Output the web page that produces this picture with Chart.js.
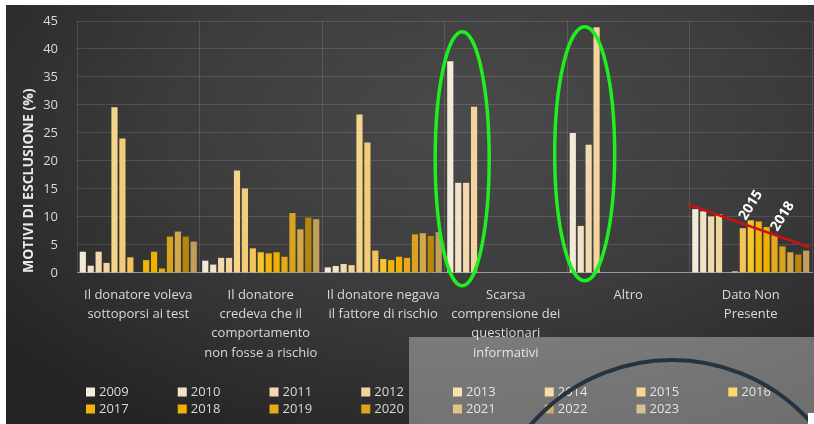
<!DOCTYPE html>
<html>
<head>
<meta charset="utf-8">
<script src="https://cdn.jsdelivr.net/npm/chart.js@4.4.1/dist/chart.umd.min.js"></script>
<style>
  body { margin: 0; background: #fff; }
  #wrap {
    position: absolute; left: 6px; top: 5px; width: 808px; height: 419px;
    background: radial-gradient(ellipse 75% 85% at 58% 28%, #4a4a4a 0%, #3c3c3c 50%, #242424 100%);
  }
</style>
</head>
<body>
<div id="wrap"><canvas id="myChart"></canvas></div>
<script>
let categories = [
    ["Il donatore voleva", "sottoporsi ai test"],
    ["Il donatore", "credeva che il", "comportamento", "non fosse a rischio"],
    ["Il donatore negava", "il fattore di rischio"],
    ["Scarsa", "comprensione dei", "questionari", "informativi"],
    ["Altro"],
    ["Dato Non", "Presente"]
];
let years = ["2009", "2010", "2011", "2012", "2013", "2014", "2015", "2016",
             "2017", "2018", "2019", "2020", "2021", "2022", "2023"];
let yTicks = [0, 5, 10, 15, 20, 25, 30, 35, 40, 45];

let v2009 = [3.8, 2.2, 1.0, 37.8, 25.0, 11.4];
let v2010 = [1.3, 1.5, 1.25, 16.1, 8.4, 11.0];
let v2011 = [3.8, 2.7, 1.6, 16.1, 22.9, 10.1];
let v2012 = [1.8, 2.7, 1.4, 29.7, 43.9, 10.5];
let v2013 = [29.6, 18.3, 28.3, 0, 0, 0];
let v2014 = [24.0, 15.1, 23.3, 0, 0, 0.3];
let v2015 = [2.8, 4.4, 4.0, 0, 0, 8.0];
let v2016 = [0, 3.7, 2.5, 0, 0, 9.4];
let v2017 = [2.3, 3.5, 2.3, 0, 0, 9.2];
let v2018 = [3.8, 3.7, 2.9, 0, 0, 8.2];
let v2019 = [0.8, 2.9, 2.7, 0, 0, 6.8];
let v2020 = [6.5, 10.7, 6.9, 0, 0, 4.75];
let v2021 = [7.4, 7.8, 7.1, 0, 0, 3.7];
let v2022 = [6.5, 9.9, 6.6, 0, 0, 3.3];
let v2023 = [5.6, 9.6, 7.3, 0, 0, 4.0];

let series = [v2009, v2010, v2011, v2012, v2013, v2014, v2015, v2016,
              v2017, v2018, v2019, v2020, v2021, v2022, v2023];
let colors = ["#f3ead9", "#f4e2c4", "#f2d9b0", "#f4d49c", "#f5d58a", "#f3cc7a", "#f4c35c", "#f7c62a",
              "#f3b40a", "#f0b000", "#e4aa1c", "#d9a31e", "#d4a847", "#b8860b", "#c2a05a"];

let font = "Open Sans";
let textColor = "#d9d9d9";
let gridColor = "rgba(255,255,255,0.12)";

function drawLegend(ctx, chart) {
    ctx.save();
    ctx.font = `13px ${font}`;
    ctx.textBaseline = "middle";
    ctx.textAlign = "left";
    chart.data.datasets.forEach((ds, i) => {
        let col = i % 8, row = Math.floor(i / 8);
        let bx = 80 + col * 91.75, by = 387 + row * 17;
        ctx.fillStyle = ds.backgroundColor;
        ctx.fillRect(bx, by - 4.5, 9, 9);
        ctx.fillStyle = textColor;
        ctx.fillText(ds.label, bx + 13, by + 0.5);
    });
    ctx.restore();
}

function ringBars(ctx, chart, idx, yValue, rx) {
    let first = chart.getDatasetMeta(0).data[idx];
    let fourth = chart.getDatasetMeta(3).data[idx];
    let cx = (first.x + fourth.x) / 2;
    let cy = chart.scales.y.getPixelForValue(yValue);
    ctx.beginPath();
    ctx.ellipse(cx, cy, rx, 127, 0, 0, Math.PI * 2);
    ctx.stroke();
}

function rotatedText(ctx, text, x, y) {
    ctx.save();
    ctx.translate(x, y);
    ctx.rotate(-58 * Math.PI / 180);
    ctx.fillText(text, 0, 0);
    ctx.restore();
}

let extras = {
    id: "extras",
    afterDraw(chart) {
        let ctx = chart.ctx;
        let xs = chart.scales.x, ys = chart.scales.y;
        drawLegend(ctx, chart);

        ctx.save();
        ctx.strokeStyle = "#1fef1f";
        ctx.lineWidth = 3.5;
        ringBars(ctx, chart, 3, 20.4, 27);
        ringBars(ctx, chart, 4, 21.3, 30);

        let cw = xs.getPixelForValue(1) - xs.getPixelForValue(0);
        let c5 = xs.getPixelForValue(5);
        ctx.strokeStyle = "#d01010";
        ctx.lineWidth = 2.5;
        ctx.beginPath();
        ctx.moveTo(c5 - cw / 2 - 2, ys.getPixelForValue(12.3));
        ctx.lineTo(c5 + cw * 0.48, ys.getPixelForValue(4.6));
        ctx.stroke();

        ctx.fillStyle = "#ffffff";
        ctx.font = `bold 14px ${font}`;
        ctx.textAlign = "center";
        ctx.textBaseline = "middle";
        rotatedText(ctx, "2015", chart.getDatasetMeta(6).data[5].x + 8, ys.getPixelForValue(12.1));
        rotatedText(ctx, "2018", chart.getDatasetMeta(9).data[5].x + 16, ys.getPixelForValue(10.1));

        ctx.fillStyle = "rgba(255,255,255,0.34)";
        ctx.fillRect(403, 332, 405, 87);
        ctx.strokeStyle = "#243443";
        ctx.lineWidth = 4;
        ctx.beginPath();
        ctx.arc(666, 541, 186, 0, Math.PI * 2);
        ctx.stroke();
        ctx.fillStyle = "#ffffff";
        ctx.fillRect(802, 408, 6, 11);
        ctx.restore();
    }
};

let chart = new Chart(document.getElementById("myChart"), {
    type: "bar",
    data: {
        labels: categories,
        datasets: years.map((year, i) => ({
            label: year,
            data: series[i],
            backgroundColor: colors[i],
            borderWidth: 0,
            categoryPercentage: 0.97,
            barPercentage: 0.78
        }))
    },
    options: {
        responsive: true,
        maintainAspectRatio: false,
        animation: false,
        layout: { padding: { top: 16, right: 2, bottom: 49, left: 0 } },
        plugins: {
            legend: { display: false },
            tooltip: { enabled: false }
        },
        scales: {
            x: {
                ticks: {
                    color: textColor,
                    font: { family: font, size: 13, lineHeight: 1.485 },
                    padding: 12.4,
                    maxRotation: 0,
                    autoSkip: false
                },
                grid: { color: gridColor, drawTicks: false },
                border: { color: "#8d99ae" }
            },
            y: {
                min: 0,
                max: 45,
                afterBuildTicks: (scale) => { scale.ticks = yTicks.map(v => ({ value: v })); },
                ticks: { color: textColor, font: { family: font, size: 13 }, padding: 3 },
                grid: { color: gridColor, drawTicks: true, tickLength: 16, tickColor: "transparent" },
                border: { display: false },
                title: {
                    display: true,
                    text: "MOTIVI DI ESCLUSIONE (%)",
                    color: "#e8e8e8",
                    font: { family: font, size: 14, weight: "bold" },
                    align: "start",
                    padding: { top: 15, bottom: 0 }
                },
                afterFit: (scale) => { scale.width = 71; }
            }
        }
    },
    plugins: [extras]
});
</script>
</body>
</html>
